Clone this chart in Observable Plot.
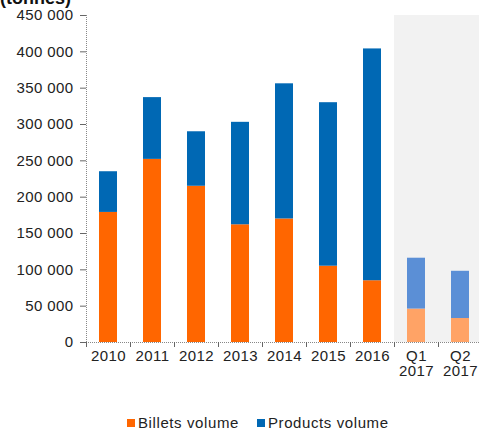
<!DOCTYPE html>
<html>
<head>
<meta charset="utf-8">
<script src="https://cdn.jsdelivr.net/npm/d3@7"></script>
<script src="https://cdn.jsdelivr.net/npm/@observablehq/plot@0.6"></script>
<style>
  body { margin: 0; background: #fff; font-family: "Liberation Sans", Arial, sans-serif; }
  #wrap { position: relative; width: 479px; height: 431px; overflow: hidden; }
  #title { position: absolute; left: 0; top: -11px; font-weight: bold; font-size: 18px; line-height: 1; color: #111; }
  #legend { position: absolute; left: 127px; top: 414px; font-size: 15px; letter-spacing: 0.6px; color: #222; display: flex; align-items: center; }
  .sw { display: inline-block; width: 8px; height: 8px; margin-right: 3px; }
  .item { display: flex; align-items: center; margin-right: 18px; }
</style>
</head>
<body>
<div id="wrap">
  <div id="title">(tonnes)</div>
  <div id="chart"></div>
  <div id="legend">
    <div class="item"><span class="sw" style="background:#ff6600"></span>Billets volume</div>
    <div class="item"><span class="sw" style="background:#0068b4"></span>Products volume</div>
  </div>
</div>
<script>
const categories = ["2010","2011","2012","2013","2014","2015","2016","Q1\n2017","Q2\n2017"];
const billets  = [179000, 252000, 215000, 162000, 170000, 105000, 85000, 46000, 33000];
const products = [56000, 85000, 75000, 141000, 186000, 225000, 319000, 70000, 65000];
const quarterCats = ["Q1\n2017","Q2\n2017"];
const yTicks = [0,50000,100000,150000,200000,250000,300000,350000,400000,450000];

const rows = [];
categories.forEach((c, i) => {
  const q = quarterCats.includes(c);
  rows.push({cat: c, series: "Billets volume", value: billets[i], color: q ? "#ffa366" : "#ff6600"});
  rows.push({cat: c, series: "Products volume", value: products[i], color: q ? "#5b8fd6" : "#0068b4"});
});

const W = 479, H = 400, mL = 86, mR = -3, mT = 15, mB = 58;
const bw = (W - mL - mR) / categories.length;
const fmt = d => d3.format(",")(d).replace(/,/g, " ");

const chart = Plot.plot({
  width: W, height: H,
  marginLeft: mL, marginRight: mR, marginTop: mT, marginBottom: mB,
  style: {fontFamily: "'Liberation Sans', Arial, sans-serif", fontSize: "15px", color: "#222", background: "transparent", letterSpacing: "0.4px", overflow: "hidden"},
  x: {domain: categories, padding: 0, axis: null, label: null},
  y: {domain: [0, 450000], axis: null, label: null},
  color: {type: "identity"},
  marks: [
    Plot.barY(quarterCats, {x: d => d, y1: 0, y2: 450000, fill: "#f2f2f2"}),
    Plot.barY(rows, Plot.stackY({x: "cat", y: "value", fill: "color", insetLeft: 13, insetRight: 13})),
    Plot.ruleY([0], {stroke: "#888", strokeDasharray: "1,1"}),
    Plot.ruleX([categories[0]], {x: d => d, dx: -bw / 2, y1: 0, y2: 450000, stroke: "#888", strokeDasharray: "1,1"}),
    Plot.ruleX(categories, {x: d => d, dx: -bw / 2, y1: 0, y2: 0, insetBottom: -5, stroke: "#666"}),
    Plot.axisY({ticks: yTicks, tickFormat: fmt, tickSize: 6, tickPadding: 7, stroke: "#666", fontSize: 15, label: null}),
    Plot.axisX({tickSize: 0, tickPadding: 7, fontSize: 15, lineHeight: 1.05, label: null})
  ]
});
document.getElementById("chart").appendChild(chart);
</script>
</body>
</html>
